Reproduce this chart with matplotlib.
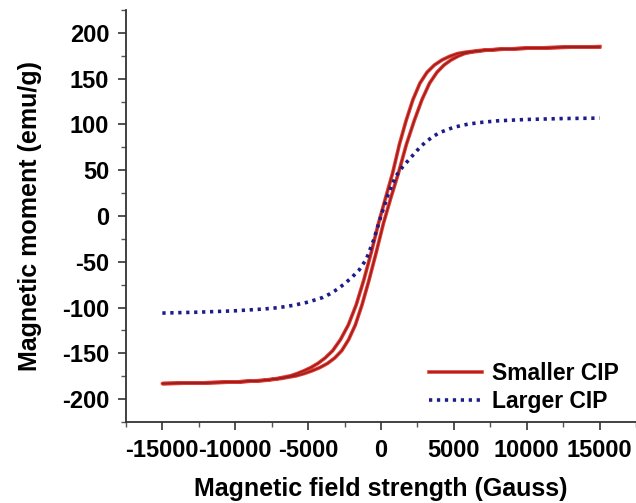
import matplotlib
matplotlib.use("Agg")
from matplotlib import pyplot as plt
from matplotlib.ticker import MultipleLocator
import matplotlib.patheffects as pe

plt.rcParams['font.family'] = ['Liberation Sans', 'DejaVu Sans']
plt.rcParams['font.weight'] = 'bold'
plt.rcParams['axes.unicode_minus'] = False

# Smaller CIP: hysteresis loop (same moments, two field branches)
moment_small = [185, 184.3, 183.3, 182, 181, 179, 177.5, 174.5, 170.5, 165, 157,
                145, 127, 104, 78, 47, 20, -8, -40, -70, -97, -119, -135, -147,
                -155, -161, -165.5, -169, -172, -174.5, -177.5, -179.5, -181.3,
                -182.3, -183]
field_down = [15000, 12480, 9950, 7900, 6860, 5800, 5260, 4720, 4190, 3670, 3160,
              2670, 2190, 1720, 1260, 800, 320, -170, -670, -1180, -1700, -2240,
              -2780, -3310, -3830, -4330, -4810, -5280, -5740, -6200, -7140,
              -8100, -10050, -12520, -15000]
field_up = [15000, 12520, 10050, 8100, 7140, 6200, 5740, 5280, 4810, 4330, 3840,
            3330, 2810, 2280, 1740, 1200, 680, 170, -330, -820, -1300, -1760,
            -2220, -2690, -3170, -3670, -4190, -4720, -5260, -5800, -6860,
            -7900, -9950, -12480, -15000]

# Larger CIP
field_large = [-15000, -12500, -10000, -8000, -7000, -6000, -5000, -4000, -3500,
               -3000, -2500, -2000, -1500, -1000, -500, 0, 500, 1000, 1500, 2000,
               2500, 3000, 3500, 4000, 5000, 6000, 7000, 8000, 10000, 12500, 15000]
moment_large = [-106, -105, -103.5, -101.5, -100, -97.5, -94, -89, -85,
                -80, -74, -67, -59, -47, -26, 0, 24, 43, 54, 63,
                72, 80, 86, 91, 97, 100.5, 102.5, 104, 105.5, 106.5, 107]

fig = plt.figure(figsize=(6.36, 5.03), dpi=100)
ax = fig.add_axes([0.198, 0.161, 0.802, 0.819])

ax.plot(field_down + field_up[::-1], moment_small + moment_small[::-1],
        color='#9c1f1f', lw=1.1, label='Smaller CIP',
        path_effects=[pe.Stroke(linewidth=2.6, foreground='#e43a30'), pe.Normal()])
ax.plot(field_large, moment_large, color='#1c1c8a', lw=2.6, dashes=(0.9, 1.3),
        label='Larger CIP')

ax.set_xlim(-17500, 17500)
ax.set_ylim(-225, 225)
ax.set_xticks([-15000, -10000, -5000, 0, 5000, 10000, 15000])
ax.set_yticks([-200, -150, -100, -50, 0, 50, 100, 150, 200])
ax.xaxis.set_minor_locator(MultipleLocator(2500))
ax.yaxis.set_minor_locator(MultipleLocator(25))

for s in ['top', 'right']:
    ax.spines[s].set_visible(False)
for s in ['left', 'bottom']:
    ax.spines[s].set_linewidth(1.3)
    ax.spines[s].set_color('#333333')
ax.tick_params(which='major', length=6, width=1.2, labelsize=17, color='#333333',
               pad=6)
ax.tick_params(which='minor', length=3.5, width=1.0, color='#555555')

ax.set_xlabel('Magnetic field strength (Gauss)', fontsize=18, fontweight='bold',
              labelpad=11)
ax.set_ylabel('Magnetic moment (emu/g)', fontsize=18, fontweight='bold', labelpad=14)

ax.legend(loc='lower right', bbox_to_anchor=(0.985, 0.0), frameon=False,
          fontsize=16.5, handlelength=2.3, handletextpad=0.45, labelspacing=0.2,
          borderaxespad=0.0)

fig.savefig('out.png', dpi=100)
